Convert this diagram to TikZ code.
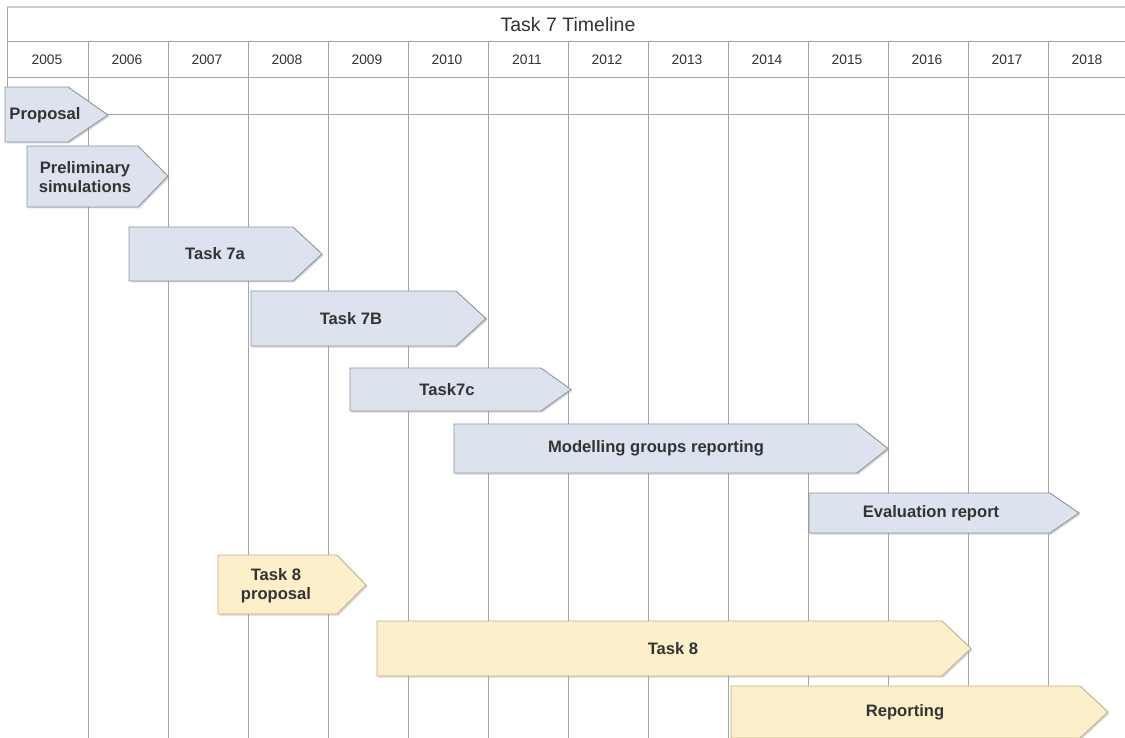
\documentclass[tikz,border=0pt]{standalone}
\usepackage{fontspec}
\setmainfont{Liberation Sans}
\usetikzlibrary{shadows}
\definecolor{gridgray}{HTML}{A4A4A4}
\definecolor{topgray}{HTML}{CDCDCD}
\definecolor{textgray}{HTML}{333333}
\definecolor{barblue}{HTML}{DCE3EE}
\definecolor{blueedge}{HTML}{8C949E}
\definecolor{baryellow}{HTML}{FDEFC9}
\definecolor{yellowedge}{HTML}{BFB08A}
\begin{document}
\begin{tikzpicture}[x=1pt, y=-1pt,
  grid/.style={draw=gridgray, line width=1pt},
  year/.style={font=\fontsize{13.8}{15}\selectfont, text=textgray},
  bluebar/.style={draw=blueedge, fill=barblue, line width=0.9pt, drop shadow={shadow xshift=1.5pt, shadow yshift=-1.5pt, opacity=0.3}},
  yellowbar/.style={draw=yellowedge, fill=baryellow, line width=0.9pt, drop shadow={shadow xshift=1.5pt, shadow yshift=-1.5pt, opacity=0.3}},
  bartext/.style={font=\bfseries\fontsize{16.6}{19}\selectfont, text=textgray, align=center}
]
\useasboundingbox[fill=white] (0,0) rectangle (1125,738);

\draw[draw=topgray, line width=2pt] (7,7) -- (1125,7);
\draw[grid] (7,7) -- (7,115);
\draw[grid] (7,42) -- (1125,42) (7,78) -- (1125,78) (7,115) -- (1125,115);
\draw[grid] (88,42) -- (88,738) (168,42) -- (168,738) (248,42) -- (248,738)
  (328,42) -- (328,738) (408,42) -- (408,738) (488,42) -- (488,738)
  (568,42) -- (568,738) (648,42) -- (648,738) (728,42) -- (728,738)
  (808,42) -- (808,738) (888,42) -- (888,738) (968,42) -- (968,738)
  (1048,42) -- (1048,738);

\node[font=\fontsize{19.5}{22}\selectfont, text=textgray] (title) at (568,25) {Task 7 Timeline};
\node[year] (y05) at (47,60) {2005};
\node[year] (y06) at (127,60) {2006};
\node[year] (y07) at (207,60) {2007};
\node[year] (y08) at (287,60) {2008};
\node[year] (y09) at (367,60) {2009};
\node[year] (y10) at (447,60) {2010};
\node[year] (y11) at (527,60) {2011};
\node[year] (y12) at (607,60) {2012};
\node[year] (y13) at (687,60) {2013};
\node[year] (y14) at (767,60) {2014};
\node[year] (y15) at (847,60) {2015};
\node[year] (y16) at (927,60) {2016};
\node[year] (y17) at (1007,60) {2017};
\node[year] (y18) at (1087,60) {2018};

\draw[bluebar] (5,87) -- (68,87) -- (108,115) -- (68,142) -- (5,142) -- cycle;
\node[bartext] (prop) at (45,115) {Proposal};
\draw[bluebar] (27,146) -- (138,146) -- (168,176) -- (138,207) -- (27,207) -- cycle;
\node[bartext] (prelim) at (85,177) {Preliminary\\simulations};
\draw[bluebar] (129,227) -- (293,227) -- (322,254) -- (293,281) -- (129,281) -- cycle;
\node[bartext] (t7a) at (215,254) {Task 7a};
\draw[bluebar] (251,291) -- (456,291) -- (486,318.5) -- (456,346) -- (251,346) -- cycle;
\node[bartext] (t7b) at (351,318.5) {Task 7B};
\draw[bluebar] (350,368) -- (541,368) -- (571,389.5) -- (541,411) -- (350,411) -- cycle;
\node[bartext] (t7c) at (447,389.5) {Task7c};
\draw[bluebar] (454,424) -- (857,424) -- (888,448.5) -- (857,473) -- (454,473) -- cycle;
\node[bartext] (model) at (656,448.5) {Modelling groups reporting};
\draw[bluebar] (809,493) -- (1050,493) -- (1079,513) -- (1050,533) -- (809,533) -- cycle;
\node[bartext] (eval) at (931,513) {Evaluation report};

\draw[yellowbar] (218,555) -- (337,555) -- (366,585) -- (337,614) -- (218,614) -- cycle;
\node[bartext] (t8prop) at (276,586) {Task 8\\proposal};
\draw[yellowbar] (377,621) -- (942,621) -- (971,648.5) -- (942,676) -- (377,676) -- cycle;
\node[bartext] (t8) at (673,648.5) {Task 8};
\draw[yellowbar] (731,686) -- (1080,686) -- (1108,712) -- (1080,738) -- (731,738) -- cycle;
\node[bartext] (rep) at (905,712) {Reporting};
\end{tikzpicture}
\end{document}
